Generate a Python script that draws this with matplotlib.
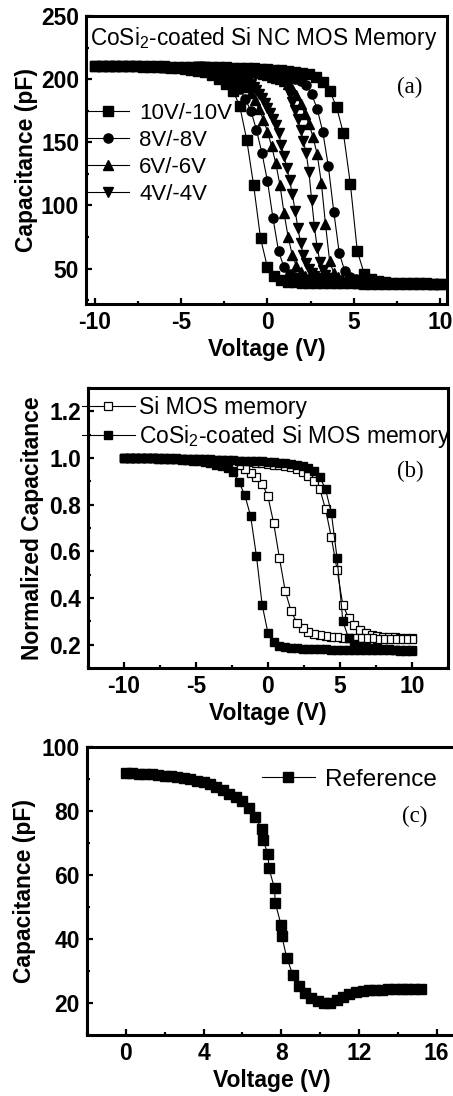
import numpy as np
import matplotlib
matplotlib.use('Agg')
import matplotlib.pyplot as plt
from matplotlib.ticker import MultipleLocator, FormatStrFormatter

plt.rcParams['font.family'] = ['Liberation Sans', 'DejaVu Sans']
plt.rcParams['mathtext.fontset'] = 'custom'
plt.rcParams['mathtext.rm'] = 'Liberation Sans'
plt.rcParams['mathtext.default'] = 'rm'
plt.rcParams['axes.unicode_minus'] = False

# %% data, panel (a): C-V loops of the CoSi2-coated Si NC memory, sweep +-V
V_10 = [-10.0, -9.6, -9.2, -8.8, -8.4, -8.0, -7.6, -7.2, -6.8, -6.4, -6.0, -5.6, -5.2, -4.8, -4.4,
        -4.0, -3.6, -3.2, -2.8, -2.4, -2.0, -1.6, -1.2, -0.8, -0.4, 0.0, 0.4, 0.8, 1.2, 1.6, 2.0,
        2.4, 2.8, 3.2, 3.6, 4.0, 4.4, 4.8, 5.2, 5.6, 6.0, 6.4, 6.8, 7.2, 7.6, 8.0, 8.4, 8.8, 9.2,
        9.6, 10.0]
C_10_fwd = [210.5, 210.5, 210.5, 210.5, 210.4, 210.4, 210.3, 210.3, 210.2, 210.2, 210.1,
            210.0, 210.0, 209.9, 209.8, 209.7, 209.6, 209.5, 209.4, 209.3, 209.1, 208.9, 208.7,
            208.5, 208.2, 207.9, 207.5, 207.0, 206.5, 205.8, 205.0, 203.8, 201.8,
            198.0, 191.0, 178.0, 157.0, 117.0, 64.0, 46.0, 42.0, 40.3, 39.5, 39.0,
            38.8, 38.6, 38.5, 38.4, 38.3, 38.2, 38.1]
C_10_rev = [210.5, 210.5, 210.5, 210.4, 210.3, 210.2, 210.1, 210.0, 209.8, 209.6, 209.4,
            209.1, 208.8, 208.3, 207.6, 206.7, 205.5, 203.5, 200.5, 196.5,
            191.0, 178.5, 152.0, 116.0, 74.0, 51.0, 44.0, 41.0, 39.7, 39.1, 38.8,
            38.7, 38.6, 38.5, 38.5, 38.4, 38.4, 38.3, 38.3, 38.2, 38.2, 38.2, 38.1, 38.1, 38.1,
            38.0, 38.0, 38.0, 38.0, 37.9, 37.9]

V_8 = [-8.0, -7.68, -7.36, -7.04, -6.72, -6.4, -6.08, -5.76, -5.44, -5.12, -4.8, -4.48, -4.16,
       -3.84, -3.52, -3.2, -2.88, -2.56, -2.24, -1.92, -1.6, -1.28, -0.96, -0.64, -0.32, 0.0,
       0.32, 0.64, 0.96, 1.28, 1.6, 1.92, 2.24, 2.56, 2.88, 3.2, 3.52, 3.84, 4.16, 4.48, 4.8,
       5.12, 5.44, 5.76, 6.08, 6.4, 6.72, 7.04, 7.36, 7.68, 8.0]
C_8_fwd = [210.3, 210.3, 210.2, 210.2, 210.1, 210.1, 210.0, 210.0, 209.9, 209.8, 209.7,
           209.6, 209.5, 209.4, 209.3, 209.1, 209.0, 208.8, 208.6, 208.4, 208.1,
           207.8, 207.4, 207.0, 206.5, 206.0, 205.2, 204.3, 203.3, 202.0, 200.5,
           198.5, 195.5, 188.0, 176.5, 158.5, 131.5, 95.0, 62.0, 48.0, 43.5,
           41.5, 40.5, 40.0, 39.6, 39.3, 39.0, 38.8, 38.6, 38.5, 38.4]
C_8_rev = [210.3, 210.2, 210.1, 210.0, 209.9, 209.8, 209.6, 209.4, 209.2, 209.0, 208.7,
           208.4, 208.0, 207.5, 206.8, 206.0, 204.8, 203.2, 201.0, 197.5, 192.5,
           184.0, 175.0, 160.0, 141.5, 119.5, 90.0, 64.0, 51.0, 46.0, 43.5,
           42.0, 41.0, 40.3, 39.8, 39.5, 39.3, 39.1, 39.0, 38.9, 38.8,
           38.7, 38.6, 38.5, 38.5, 38.4, 38.4, 38.3, 38.3, 38.2, 38.2]

V_6 = [-6.0, -5.76, -5.52, -5.28, -5.04, -4.8, -4.56, -4.32, -4.08, -3.84, -3.6, -3.36, -3.12,
       -2.88, -2.64, -2.4, -2.16, -1.92, -1.68, -1.44, -1.2, -0.96, -0.72, -0.48, -0.24, 0.0,
       0.24, 0.48, 0.72, 0.96, 1.2, 1.44, 1.68, 1.92, 2.16, 2.4, 2.64, 2.88, 3.12, 3.36, 3.6,
       3.84, 4.08, 4.32, 4.56, 4.8, 5.04, 5.28, 5.52, 5.76, 6.0]
C_6_fwd = [210.0, 210.0, 209.9, 209.9, 209.8, 209.8, 209.7, 209.6, 209.5, 209.4, 209.3,
           209.2, 209.0, 208.8, 208.6, 208.4, 208.1, 207.8, 207.5, 207.1, 206.6,
           206.1, 205.5, 204.8, 204.0, 203.1, 202.1, 201.0, 200.0, 198.5, 196.0,
           192.5, 187.5, 180.5, 172.5, 164.8, 154.0, 140.5, 118.0, 85.0, 56.0,
           46.5, 43.5, 42.0, 41.0, 40.4, 40.0, 39.7, 39.4, 39.2, 39.0]
C_6_rev = [210.0, 209.9, 209.8, 209.7, 209.5, 209.3, 209.1, 208.8, 208.5, 208.2, 207.8,
           207.3, 206.7, 206.0, 205.2, 204.2, 203.0, 201.5, 199.5, 197.0, 193.5,
           189.0, 183.5, 176.0, 168.0, 158.5, 147.0, 133.5, 116.5, 94.0, 75.0,
           60.5, 52.0, 47.0, 44.5, 43.0, 42.0, 41.2, 40.7, 40.3, 40.0,
           39.8, 39.6, 39.4, 39.3, 39.2, 39.1, 39.0, 38.9, 38.8, 38.8]

V_4 = [-4.0, -3.84, -3.68, -3.52, -3.36, -3.2, -3.04, -2.88, -2.72, -2.56, -2.4, -2.24, -2.08,
       -1.92, -1.76, -1.6, -1.44, -1.28, -1.12, -0.96, -0.8, -0.64, -0.48, -0.32, -0.16, 0.0,
       0.16, 0.32, 0.48, 0.64, 0.8, 0.96, 1.12, 1.28, 1.44, 1.6, 1.76, 1.92, 2.08, 2.24, 2.4,
       2.56, 2.72, 2.88, 3.04, 3.2, 3.36, 3.52, 3.68, 3.84, 4.0]
C_4_fwd = [209.5, 209.4, 209.3, 209.2, 209.1, 209.0, 208.9, 208.8, 208.6, 208.4, 208.2,
           208.0, 207.8, 207.6, 207.3, 207.0, 206.7, 206.4, 206.0, 205.6, 205.2,
           205.0, 204.6, 204.2, 203.8, 203.3, 202.8, 202.3, 201.8, 201.2, 200.2,
           198.3, 194.0, 188.0, 182.0, 175.5, 168.5, 160.0, 151.0, 141.5, 126.5,
           104.0, 83.0, 66.5, 55.5, 49.0, 45.0, 43.0, 41.8, 41.0, 40.5]
C_4_rev = [209.5, 209.3, 209.1, 208.9, 208.6, 208.3, 208.0, 207.6, 207.2, 206.7, 206.2,
           205.6, 205.0, 204.3, 203.5, 202.6, 201.5, 200.0, 198.3, 196.3, 194.0,
           191.3, 188.3, 185.0, 181.3, 177.3, 173.0, 168.5, 163.5, 157.5, 148.0,
           139.0, 130.0, 120.0, 109.0, 96.0, 82.5, 70.0, 61.0, 54.5, 50.0,
           46.5, 44.3, 42.8, 41.8, 41.2, 40.7, 40.3, 40.0, 39.7, 39.5]

loops_a = [('10V/-10V', 's', V_10, C_10_fwd, C_10_rev),
           ('8V/-8V', 'o', V_8, C_8_fwd, C_8_rev),
           ('6V/-6V', '^', V_6, C_6_fwd, C_6_rev),
           ('4V/-4V', 'v', V_4, C_4_fwd, C_4_rev)]

# %% data, panel (b): normalized loops, +-10 V sweep
V_b = V_10
N_si_fwd = [1.000, 1.000, 1.000, 0.999, 0.999, 0.999, 0.998, 0.998, 0.997, 0.997, 0.996,
            0.995, 0.995, 0.994, 0.993, 0.992, 0.991, 0.990, 0.989, 0.988, 0.986,
            0.984, 0.982, 0.979, 0.977, 0.974, 0.971, 0.968, 0.965, 0.961, 0.953,
            0.941, 0.922, 0.900, 0.868, 0.780, 0.660, 0.520, 0.370, 0.315, 0.285,
            0.265, 0.252, 0.243, 0.238, 0.235, 0.233, 0.231, 0.230, 0.229, 0.228]
N_si_rev = [1.000, 1.000, 0.999, 0.999, 0.998, 0.998, 0.997, 0.997, 0.996, 0.995, 0.994,
            0.993, 0.992, 0.991, 0.990, 0.988, 0.986, 0.984, 0.981, 0.977, 0.970,
            0.952, 0.934, 0.918, 0.890, 0.835, 0.720, 0.570, 0.430, 0.345, 0.295,
            0.272, 0.256, 0.247, 0.240, 0.236, 0.233, 0.231, 0.230, 0.229, 0.228,
            0.228, 0.227, 0.227, 0.226, 0.226, 0.226, 0.225, 0.225, 0.225, 0.225]
N_co_fwd = [1.000, 1.000, 1.000, 1.000, 1.000, 0.999, 0.999, 0.999, 0.998, 0.998, 0.997,
            0.997, 0.996, 0.996, 0.995, 0.994, 0.993, 0.992, 0.991, 0.990, 0.989,
            0.988, 0.987, 0.986, 0.985, 0.984, 0.982, 0.980, 0.977, 0.974, 0.970,
            0.966, 0.958, 0.945, 0.920, 0.865, 0.765, 0.570, 0.300, 0.228, 0.205,
            0.195, 0.190, 0.186, 0.184, 0.182, 0.180, 0.179, 0.178, 0.177, 0.176]
N_co_rev = [1.000, 1.000, 0.999, 0.999, 0.998, 0.998, 0.997, 0.996, 0.995, 0.994, 0.993,
            0.991, 0.989, 0.986, 0.982, 0.978, 0.972, 0.965, 0.955, 0.938, 0.895,
            0.840, 0.750, 0.580, 0.370, 0.250, 0.210, 0.196, 0.190, 0.186, 0.184,
            0.183, 0.182, 0.181, 0.180, 0.180, 0.179, 0.179, 0.178, 0.178, 0.178,
            0.177, 0.177, 0.177, 0.176, 0.176, 0.176, 0.176, 0.175, 0.175, 0.175]

# %% data, panel (c): reference C-V
V_c = [0.0, 0.33, 0.66, 1.0, 1.33, 1.66, 2.0, 2.33, 2.66, 3.0, 3.33, 3.66, 4.0, 4.33, 4.66,
       5.0, 5.33, 5.66, 6.0, 6.33, 6.66, 7.0, 7.05, 7.33, 7.36, 7.66, 7.69, 8.0, 8.03, 8.28,
       8.6, 8.9, 9.22, 9.55, 9.88, 10.2, 10.5, 10.86, 11.2, 11.5, 11.85, 12.2, 12.5, 12.85,
       13.2, 13.5, 13.85, 14.2, 14.5, 14.85, 15.2]
C_c = [91.8, 91.7, 91.6, 91.5, 91.4, 91.2, 91.0, 90.8, 90.5, 90.2, 89.9, 89.5, 89.0, 88.4,
       87.6, 86.6, 85.4, 84.3, 83.0, 81.0, 78.0, 74.5, 71.0, 66.5, 62.2, 55.8, 51.3, 44.3,
       41.0, 34.2, 28.8, 25.4, 23.1, 21.6, 20.6, 19.9, 20.1, 20.8, 22.0, 22.9, 23.5, 23.7,
       23.9, 24.1, 24.2, 24.3, 24.3, 24.4, 24.4, 24.4, 24.4]


def loop(v, c_fwd, c_rev):
    # forward sweep then back again
    v = np.asarray(v)
    return np.concatenate([v, v[::-1]]), np.concatenate([c_fwd, np.asarray(c_rev)[::-1]])


def style(ax, xmaj, xmin, ymaj, ymin):
    for s in ax.spines.values():
        s.set_linewidth(2.2)
    ax.xaxis.set_major_locator(MultipleLocator(xmaj))
    ax.xaxis.set_minor_locator(MultipleLocator(xmin))
    ax.yaxis.set_major_locator(MultipleLocator(ymaj))
    ax.yaxis.set_minor_locator(MultipleLocator(ymin))
    ax.tick_params(which='both', direction='in', top=False, right=False, width=1.6)
    ax.tick_params(which='major', length=4.5, labelsize=16.5, pad=5)
    ax.tick_params(which='minor', length=2.5)
    plt.setp(ax.get_xticklabels() + ax.get_yticklabels(), fontweight='bold')


fig = plt.figure(figsize=(4.53, 10.96), dpi=100)

# %% (a)
ax1 = fig.add_axes([0.190, 0.7226, 0.797, 0.2628])
for lab, mk, v, cf, cr in loops_a:
    x, y = loop(v, cf, cr)
    ax1.plot(x, y, '-', color='k', lw=0.8, marker=mk, ms=6.6, mfc='k', mec='k', label=lab)
ax1.set_xlim(-10.5, 10.4)
ax1.set_ylim(22, 250)
style(ax1, 5, 2.5, 50, 25)
ax1.set_xlabel('Voltage (V)', fontsize=16.5, fontweight='bold', labelpad=3)
ax1.set_ylabel('Capacitance (pF)', fontsize=16.5, fontweight='bold', labelpad=2)
ax1.text(0.012, 0.90, 'CoSi$_2$-coated Si NC MOS Memory', transform=ax1.transAxes,
         fontsize=16.3, va='baseline', ha='left')
ax1.text(0.897, 0.752, '(a)', transform=ax1.transAxes, fontsize=16.5,
         family='Liberation Serif', ha='center', va='center')
ax1.legend(loc='upper left', bbox_to_anchor=(0.0, 0.698), frameon=False, fontsize=16,
           borderpad=0, borderaxespad=0, handlelength=1.94, handletextpad=0.45,
           labelspacing=0.27, numpoints=1)

# %% (b)
ax2 = fig.add_axes([0.194, 0.3905, 0.795, 0.2555])
x, y = loop(V_b, N_si_fwd, N_si_rev)
ax2.plot(x, y, '-', color='k', lw=0.8, marker='s', ms=6.4, mfc='white', mec='k', mew=0.9,
         label='Si MOS memory')
x, y = loop(V_b, N_co_fwd, N_co_rev)
ax2.plot(x, y, '-', color='k', lw=0.8, marker='s', ms=6.4, mfc='k', mec='k',
         label='CoSi$_2$-coated Si MOS memory')
ax2.set_xlim(-12.5, 12.5)
ax2.set_ylim(0.1, 1.3)
style(ax2, 5, 2.5, 0.2, 0.1)
ax2.yaxis.set_major_formatter(FormatStrFormatter('%.1f'))
plt.setp(ax2.get_yticklabels(), fontweight='bold')
ax2.set_xlabel('Voltage (V)', fontsize=16.5, fontweight='bold', labelpad=3)
ax2.set_ylabel('Normalized Capacitance', fontsize=16.5, fontweight='bold', labelpad=4)
ax2.text(0.894, 0.701, '(b)', transform=ax2.transAxes, fontsize=16.5,
         family='Liberation Serif', ha='center', va='center')
ax2.legend(loc='upper left', bbox_to_anchor=(-0.0175, 0.970), frameon=False, fontsize=16.5,
           borderpad=0, borderaxespad=0, handlelength=2.33, handletextpad=0.19,
           labelspacing=0.15, numpoints=1)

# %% (c)
ax3 = fig.add_axes([0.192, 0.0557, 0.8146, 0.2628])
ax3.plot(V_c, C_c, '-', color='k', lw=0.8, marker='s', ms=6.8, mfc='k', mec='k',
         label='Reference')
ax3.set_xlim(-2, 17)
ax3.set_ylim(10, 100)
style(ax3, 4, 2, 20, 10)
ax3.set_xlabel('Voltage (V)', fontsize=16.5, fontweight='bold', labelpad=3)
ax3.set_ylabel('Capacitance (pF)', fontsize=16.5, fontweight='bold', labelpad=4)
ax3.text(0.889, 0.758, '(c)', transform=ax3.transAxes, fontsize=16.5,
         family='Liberation Serif', ha='center', va='center')
ax3.legend(loc='upper left', bbox_to_anchor=(0.473, 0.924), frameon=False, fontsize=17.5,
           borderpad=0, borderaxespad=0, handlelength=2.2, handletextpad=0.42,
           numpoints=1)

fig.savefig('out.png', dpi=100)
